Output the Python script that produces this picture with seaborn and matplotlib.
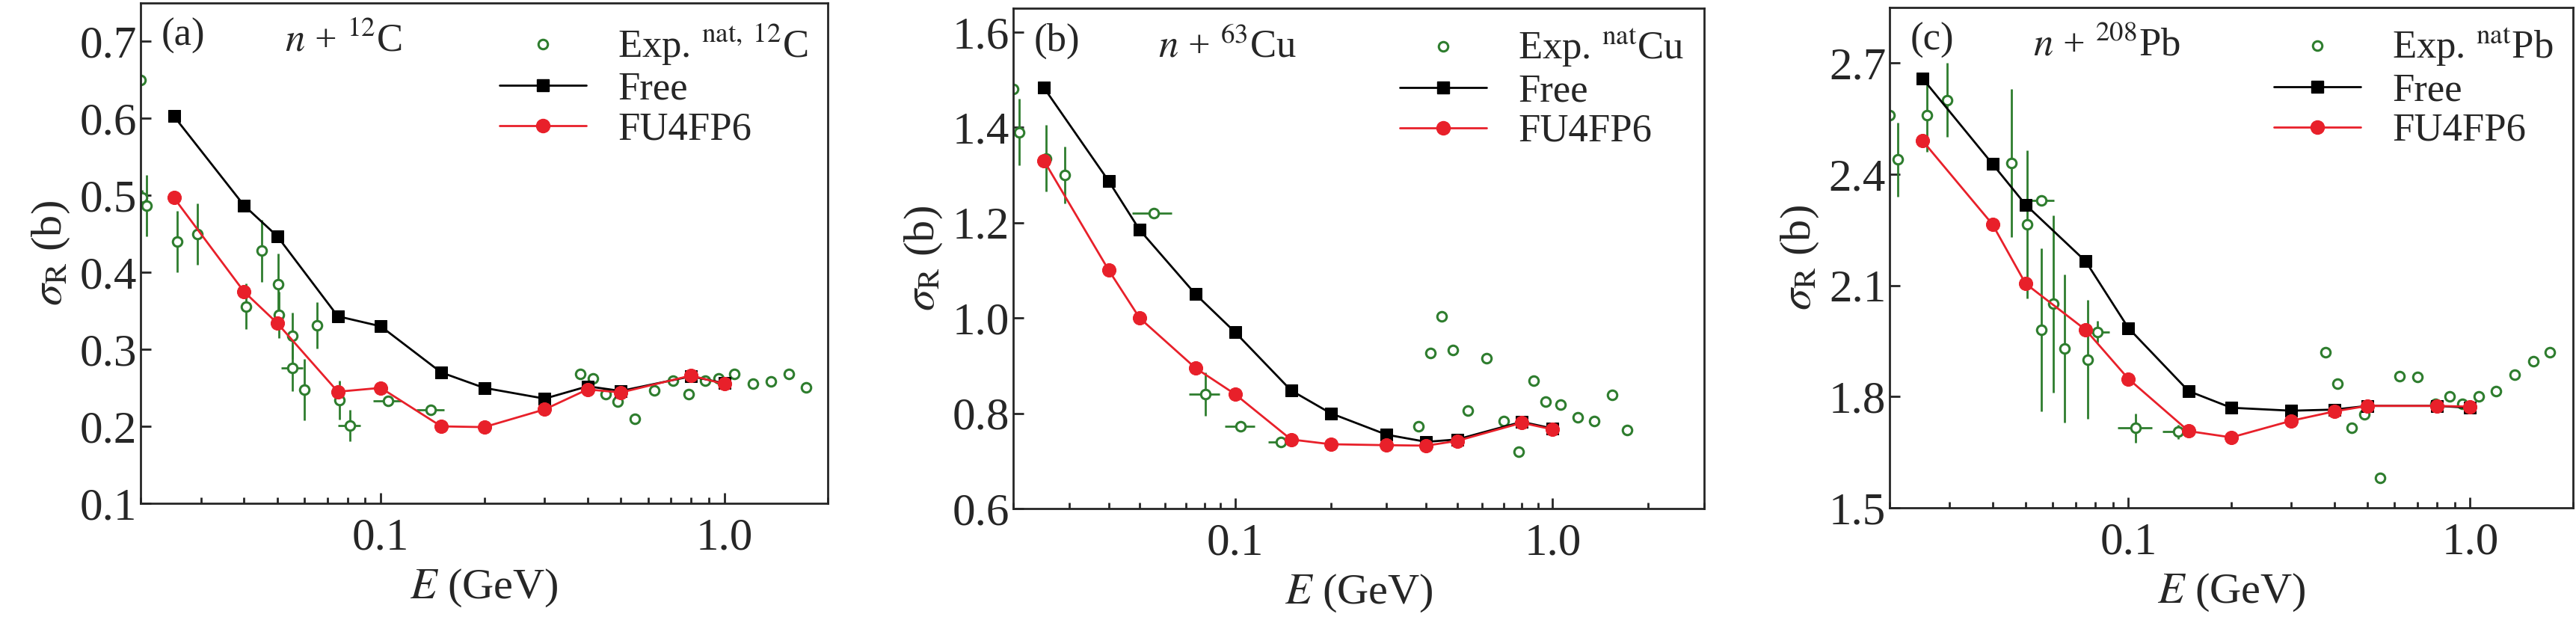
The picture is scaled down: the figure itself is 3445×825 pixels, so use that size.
import numpy as np
import matplotlib
matplotlib.use('Agg')
import matplotlib.pyplot as plt
from matplotlib.lines import Line2D
import seaborn as sns
import pandas as pd

sns.set_style('ticks')
plt.rcParams['font.family'] = ['Liberation Serif', 'DejaVu Serif']
plt.rcParams['mathtext.fontset'] = 'stix'

# model energies (GeV)
energy = [0.025, 0.04, 0.05, 0.075, 0.1, 0.15, 0.2, 0.3, 0.4, 0.5, 0.8, 1.0]

# (a) n + 12C
c_free = [0.603, 0.487, 0.447, 0.343, 0.330, 0.270, 0.250, 0.236, 0.252, 0.246, 0.265, 0.256]
c_fu = [0.497, 0.375, 0.334, 0.245, 0.250, 0.200, 0.199, 0.222, 0.248, 0.244, 0.266, 0.255]
c_exp_e = [0.02, 0.0202, 0.0208, 0.0256, 0.0293, 0.0405, 0.0451, 0.0504, 0.0506, 0.0553, 0.0553,
           0.060, 0.0652, 0.0757, 0.0812, 0.105, 0.140, 0.38, 0.415, 0.452, 0.49, 0.55, 0.625,
           0.708, 0.787, 0.88, 0.96, 1.07, 1.21, 1.37, 1.54, 1.73]
c_exp_s = [0.650, 0.497, 0.487, 0.440, 0.450, 0.356, 0.428, 0.385, 0.345, 0.318, 0.276,
           0.248, 0.331, 0.234, 0.201, 0.233, 0.221, 0.268, 0.262, 0.242, 0.232, 0.210, 0.247,
           0.259, 0.242, 0.259, 0.262, 0.268, 0.255, 0.258, 0.268, 0.251]
c_exp_ds = [0, 0.01, 0.04, 0.04, 0.04, 0.03, 0.04, 0.04, 0.03, 0.03, 0.03,
            0.04, 0.03, 0.025, 0.02, 0, 0, 0, 0, 0, 0, 0, 0, 0, 0, 0, 0, 0, 0, 0, 0, 0]
c_exp_de = [0, 0, 0, 0, 0, 0, 0, 0, 0, 0, 0.004, 0, 0, 0, 0.006, 0.01, 0.013,
            0, 0, 0, 0, 0, 0, 0, 0, 0, 0, 0, 0, 0, 0, 0]

# (b) n + 63Cu
cu_free = [1.483, 1.287, 1.185, 1.050, 0.970, 0.848, 0.800, 0.755, 0.740, 0.745, 0.782, 0.768]
cu_fu = [1.330, 1.100, 1.000, 0.895, 0.840, 0.745, 0.735, 0.733, 0.732, 0.742, 0.780, 0.766]
cu_exp_e = [0.02, 0.0209, 0.0254, 0.029, 0.0553, 0.0805, 0.104, 0.139, 0.378, 0.412, 0.447,
            0.484, 0.542, 0.620, 0.70, 0.78, 0.87, 0.952, 1.06, 1.20, 1.35, 1.54, 1.72]
cu_exp_s = [1.48, 1.39, 1.335, 1.30, 1.22, 0.84, 0.772, 0.74, 0.773, 0.927, 1.004,
            0.932, 0.805, 0.915, 0.783, 0.72, 0.868, 0.825, 0.818, 0.792, 0.783, 0.838, 0.765]
cu_exp_ds = [0, 0.07, 0.07, 0.06, 0, 0.045, 0, 0, 0, 0, 0, 0, 0, 0, 0, 0, 0, 0, 0, 0, 0, 0, 0]
cu_exp_de = [0, 0, 0, 0, 0.008, 0.009, 0.011, 0.012, 0, 0, 0, 0, 0, 0, 0, 0, 0, 0, 0, 0, 0, 0, 0]

# (c) n + 208Pb
pb_free = [2.658, 2.428, 2.318, 2.165, 1.985, 1.815, 1.770, 1.762, 1.765, 1.775, 1.775, 1.770]
pb_fu = [2.490, 2.265, 2.105, 1.980, 1.848, 1.707, 1.690, 1.735, 1.760, 1.775, 1.775, 1.773]
pb_exp_e = [0.02, 0.0211, 0.0257, 0.0295, 0.0454, 0.0505, 0.0556, 0.0556, 0.0602, 0.065,
            0.076, 0.081, 0.105, 0.140, 0.378, 0.41, 0.45, 0.49, 0.544, 0.62, 0.70, 0.79,
            0.87, 0.95, 1.06, 1.19, 1.35, 1.53, 1.71]
pb_exp_s = [2.56, 2.44, 2.56, 2.60, 2.43, 2.265, 2.33, 1.98, 2.05, 1.93, 1.90, 1.975,
            1.715, 1.705, 1.92, 1.835, 1.715, 1.753, 1.58, 1.855, 1.853, 1.78, 1.80, 1.78,
            1.80, 1.815, 1.86, 1.895, 1.92]
pb_exp_ds = [0, 0.1, 0.1, 0.1, 0.2, 0.2, 0, 0.22, 0.24, 0.2, 0.16, 0.03, 0.04, 0.02,
             0, 0, 0, 0, 0, 0, 0, 0, 0, 0, 0, 0, 0, 0, 0]
pb_exp_de = [0, 0, 0, 0, 0, 0, 0.005, 0, 0, 0, 0, 0.007, 0.012, 0.014,
             0, 0, 0, 0, 0, 0, 0, 0, 0, 0, 0, 0, 0, 0, 0]

panels = [
    dict(tag='(a)', title='$n$ + $^{12}$C', exp='Exp. $^{\\rm nat,\\ 12}$C',
         free=c_free, fu=c_fu, ee=c_exp_e, es=c_exp_s, eds=c_exp_ds, ede=c_exp_de,
         ylim=(0.1, 0.75), yticks=[0.1, 0.2, 0.3, 0.4, 0.5, 0.6, 0.7],
         xlim=(0.02, 2.0), rect=[188 / 3445, 1 - 673 / 825, 919 / 3445, 669 / 825]),
    dict(tag='(b)', title='$n$ + $^{63}$Cu', exp='Exp. $^{\\rm nat}$Cu',
         free=cu_free, fu=cu_fu, ee=cu_exp_e, es=cu_exp_s, eds=cu_exp_ds, ede=cu_exp_de,
         ylim=(0.6, 1.65), yticks=[0.6, 0.8, 1.0, 1.2, 1.4, 1.6],
         xlim=(0.02, 3.0), rect=[1355 / 3445, 1 - 680 / 825, 924 / 3445, 669 / 825]),
    dict(tag='(c)', title='$n$ + $^{208}$Pb', exp='Exp. $^{\\rm nat}$Pb',
         free=pb_free, fu=pb_fu, ee=pb_exp_e, es=pb_exp_s, eds=pb_exp_ds, ede=pb_exp_de,
         ylim=(1.5, 2.85), yticks=[1.5, 1.8, 2.1, 2.4, 2.7],
         xlim=(0.02, 2.0), rect=[2527 / 3445, 1 - 679 / 825, 914 / 3445, 669 / 825]),
]

fig = plt.figure(figsize=(34.45, 8.25), dpi=100)
green = '#2e7d2e'
red = '#e8202a'
for p in panels:
    ax = fig.add_axes(p['rect'])
    ax.errorbar(p['ee'], p['es'], yerr=p['eds'], xerr=p['ede'], fmt='o', ms=9,
                mfc='white', mec=green, mew=2.2, ecolor=green, elinewidth=2, capsize=0,
                zorder=2)
    df = pd.DataFrame({'E': energy, 'free': p['free'], 'fu': p['fu']})
    sns.lineplot(data=df, x='E', y='free', ax=ax, color='black', marker='s', ms=12,
                 mec='black', lw=2, zorder=3)
    sns.lineplot(data=df, x='E', y='fu', ax=ax, color=red, marker='o', ms=13,
                 mec=red, lw=2, zorder=4)
    ax.set_xscale('log')
    ax.set_xlim(*p['xlim'])
    ax.set_ylim(*p['ylim'])
    ax.set_yticks(p['yticks'])
    ax.yaxis.set_major_formatter(matplotlib.ticker.FormatStrFormatter('%.1f'))
    ax.set_xticks([0.1, 1.0])
    ax.set_xticklabels(['0.1', '1.0'])
    ax.tick_params(which='both', direction='in', labelsize=44, width=2)
    ax.tick_params(which='major', length=10)
    ax.tick_params(which='minor', length=6)
    ax.tick_params(axis='x', pad=14)
    for s in ax.spines.values():
        s.set_linewidth(2)
    ax.set_xlabel('$E$ (GeV)', fontsize=42, labelpad=8)
    ax.set_ylabel('$\\sigma_{\\rm R}$ (b)', fontsize=42, labelpad=8)
    ax.text(0.03, 0.97, p['tag'], transform=ax.transAxes, fontsize=38, va='top')
    ax.text(0.21, 0.96, p['title'], transform=ax.transAxes, fontsize=38, va='top')
    handles = [
        Line2D([], [], ls='none', marker='o', ms=9, mfc='white', mec=green, mew=2.2),
        Line2D([], [], color='black', lw=2, marker='s', ms=12),
        Line2D([], [], color=red, lw=2, marker='o', ms=13),
    ]
    ax.legend(handles, [p['exp'], 'Free', 'FU4FP6'], loc='upper right', fontsize=38,
              frameon=False, handlelength=2.2, borderaxespad=0.1, labelspacing=0.1,
              handletextpad=0.8)

fig.savefig('out.png', dpi=100)
